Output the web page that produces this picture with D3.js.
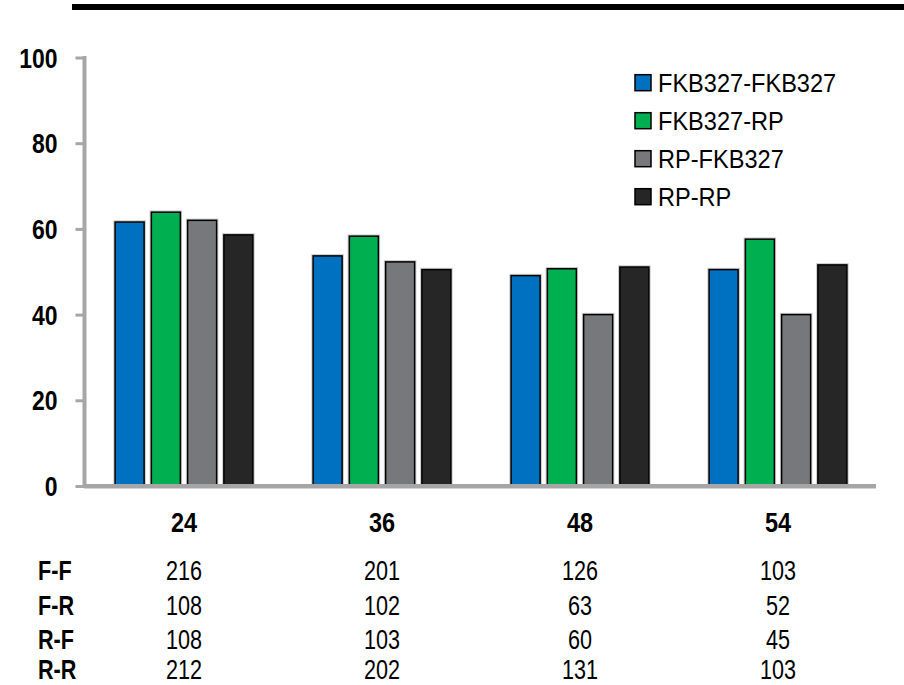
<!DOCTYPE html>
<html>
<head>
<meta charset="utf-8">
<script src="https://cdn.jsdelivr.net/npm/d3@7"></script>
<style>
  html, body { margin: 0; padding: 0; background: #fff; }
  svg { display: block; }
</style>
</head>
<body>
<svg id="chart" width="904" height="685"></svg>
<script>
// Time points (months) and the four cross groups
const categories = ["24", "36", "48", "54"];
const series = ["FKB327-FKB327", "FKB327-RP", "RP-FKB327", "RP-RP"];
const seriesColors = ["#0070C0", "#00B050", "#77787B", "#262626"];

// Percentages per series, one value per time point
const valuesFF = [61.6, 53.7, 49.1, 50.5];
const valuesFR = [63.9, 58.3, 50.7, 57.6];
const valuesRF = [62.0, 52.3, 40.0, 40.0];
const valuesRR = [58.6, 50.5, 51.1, 51.6];
const seriesValues = [valuesFF, valuesFR, valuesRF, valuesRR];

const yTicks = [0, 20, 40, 60, 80, 100];

// Patient counts shown under the chart
const rowLabels = ["F-F", "F-R", "R-F", "R-R"];
const countsFF = [216, 201, 126, 103];
const countsFR = [108, 102, 63, 52];
const countsRF = [108, 103, 60, 45];
const countsRR = [212, 202, 131, 103];
const countRows = [countsFF, countsFR, countsRF, countsRR];

const svg = d3.select("#chart");
const FONT = "'Liberation Sans', Arial, sans-serif";

// Header rule
svg.append("rect").attr("x", 72).attr("y", 4).attr("width", 832).attr("height", 6).attr("fill", "#000");

const x0 = d3.scaleBand().domain(categories).range([85, 877]).paddingInner(0).paddingOuter(0);
const x1 = d3.scaleBand().domain(series).range([0, x0.bandwidth()]).paddingInner(0.2).paddingOuter(0.83);
const y = d3.scaleLinear().domain([0, 100]).range([486, 57.5]);
const color = d3.scaleOrdinal().domain(series).range(seriesColors);

// Narrow-text helper: draws text horizontally condensed around its anchor
function narrowText(g, x, yPos, str, opts) {
  return g.append("text")
    .attr("transform", `translate(${x},${yPos}) scale(${opts.sx},1)`)
    .attr("font-family", FONT)
    .attr("font-size", opts.size)
    .attr("font-weight", opts.weight || "normal")
    .attr("text-anchor", opts.anchor || "start")
    .attr("fill", "#000")
    .text(str);
}

// Y axis
const yAxis = d3.axisLeft(y).tickValues(yTicks).tickSize(9).tickFormat("");
const yAxisG = svg.append("g").attr("transform", "translate(84.5,0)").call(yAxis);
yAxisG.select(".domain").remove();
yAxisG.selectAll(".tick line").attr("stroke", "#A6A6A6").attr("stroke-width", 3);
svg.append("line").attr("x1", 84.5).attr("x2", 84.5).attr("y1", y(100) - 1.5).attr("y2", y(0))
  .attr("stroke", "#A6A6A6").attr("stroke-width", 4);

const labelsG = svg.append("g");
yTicks.forEach(v => {
  narrowText(labelsG, 57.5, y(v) + 10, String(v), { size: 28, weight: "bold", sx: 0.82, anchor: "end" });
});

// Bars
const barsG = svg.append("g");
categories.forEach((cat, ci) => {
  const g = barsG.append("g").attr("transform", `translate(${x0(cat)},0)`);
  series.forEach((s, si) => {
    const v = seriesValues[si][ci];
    // soft halo behind each bar edge
    g.append("rect")
      .attr("x", x1(s)).attr("y", y(v))
      .attr("width", x1.bandwidth()).attr("height", y(0) - y(v))
      .attr("fill", "none").attr("stroke", "#C8C8C8").attr("stroke-width", 3.5);
    g.append("rect")
      .attr("x", x1(s)).attr("y", y(v))
      .attr("width", x1.bandwidth()).attr("height", y(0) - y(v))
      .attr("fill", color(s)).attr("stroke", "#000").attr("stroke-width", 1.5);
  });
});

// X axis baseline
svg.append("line").attr("x1", 84).attr("x2", 876).attr("y1", y(0) + 0.3).attr("y2", y(0) + 0.3)
  .attr("stroke", "#A6A6A6").attr("stroke-width", 4.5);

// Category labels
categories.forEach(cat => {
  narrowText(svg, x0(cat) + x0.bandwidth() / 2, 532, cat, { size: 28, weight: "bold", sx: 0.84, anchor: "middle" });
});

// Legend
const legend = svg.append("g");
series.forEach((s, i) => {
  const cy = 82.7 + i * 38;
  legend.append("rect").attr("x", 635).attr("y", cy - 8).attr("width", 16).attr("height", 16)
    .attr("fill", color(s)).attr("stroke", "#000").attr("stroke-width", 1.5);
  narrowText(legend, 658, cy + 9, s, { size: 25.5, sx: 0.925 });
});

// Count table
const tableBaselines = [579.5, 614.5, 649, 679];
countRows.forEach((row, ri) => {
  narrowText(svg, 38, tableBaselines[ri], rowLabels[ri], { size: 27, weight: "bold", sx: 0.8 });
  row.forEach((n, ci) => {
    const cat = categories[ci];
    narrowText(svg, x0(cat) + x0.bandwidth() / 2, tableBaselines[ri], String(n), { size: 27, sx: 0.8, anchor: "middle" });
  });
});
</script>
</body>
</html>
